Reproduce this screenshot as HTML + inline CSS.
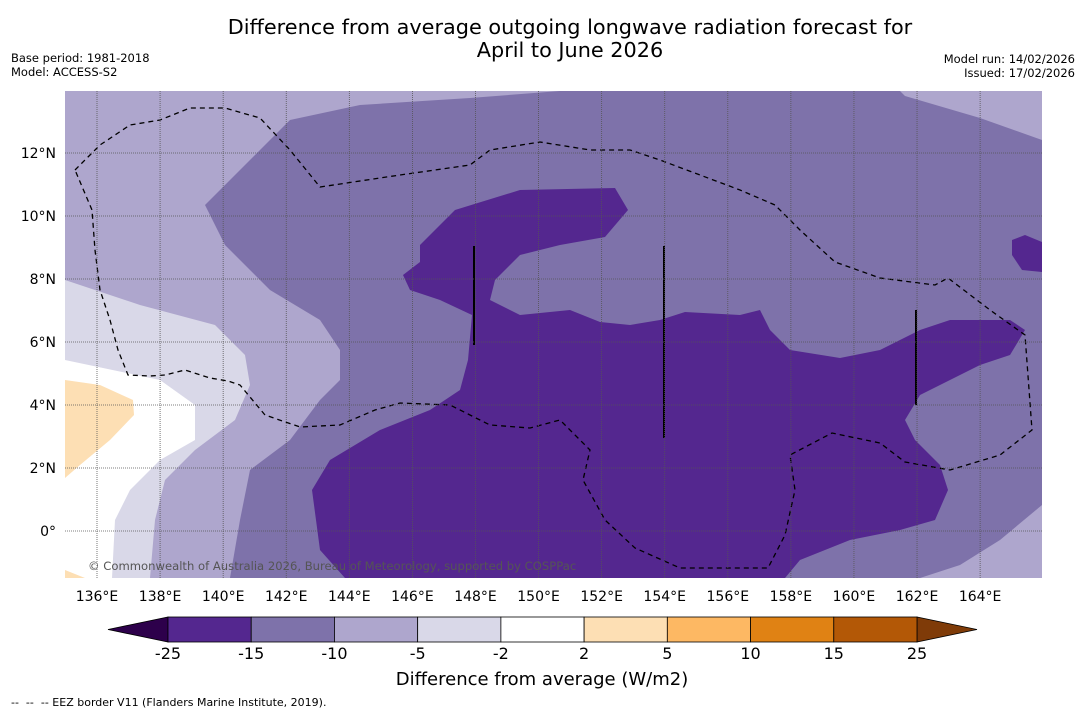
<!DOCTYPE html>
<html><head><meta charset="utf-8"><style>
body{margin:0;background:#fff;font-family:"DejaVu Sans","Liberation Sans",sans-serif;}
svg text{font-family:"DejaVu Sans","Liberation Sans",sans-serif;}
</style></head><body>
<svg id="chart" width="1085" height="713" xmlns="http://www.w3.org/2000/svg">
<text x="570" y="34" font-size="20.8" text-anchor="middle">Difference from average outgoing longwave radiation forecast for</text>
<text x="570" y="57" font-size="20.8" text-anchor="middle">April to June 2026</text>
<text x="11" y="62" font-size="11.5">Base period: 1981-2018</text>
<text x="11" y="76" font-size="11.5">Model: ACCESS-S2</text>
<text x="1075" y="63" font-size="11.5" text-anchor="end">Model run: 14/02/2026</text>
<text x="1075" y="77" font-size="11.5" text-anchor="end">Issued: 17/02/2026</text>
<defs><clipPath id="mapclip"><rect x="65" y="91" width="977" height="487"/></clipPath></defs>
<g id="map" clip-path="url(#mapclip)"></g>
<g id="axes"></g>
<g id="cbar"></g>
<text x="542" y="685" font-size="18" text-anchor="middle">Difference from average (W/m2)</text>
<text x="11" y="706" font-size="11" xml:space="preserve">--  --  -- EEZ border V11 (Flanders Marine Institute, 2019).</text>
</svg>
<script>
const levels=[-25,-15,-10,-5,-2,2,5,10,15,25];
const colors=['#54278f','#7e72aa','#aea6cd','#d9d8e8','#ffffff','#fddfb4','#fdb863','#e08214','#b35806'];
const extendColors=['#2d004b','#7f3b08'];
const lonTicks=[136,138,140,142,144,146,148,150,152,154,156,158,160,162,164];
const latTicks=[0,2,4,6,8,10,12];
const X0=65,X1=1042,Y0=91,Y1=578;
function xLon(l){return 97+(l-136)*31.54;}
function yLat(l){return 531-l*31.5;}
const NS='http://www.w3.org/2000/svg';
function mk(tag,attrs,parent){const e=document.createElementNS(NS,tag);for(const k in attrs)e.setAttribute(k,attrs[k]);parent.appendChild(e);return e;}
const map=document.getElementById('map');
const regions=[
 {c:1,p:[[65,91],[1042,91],[1042,578],[65,578]]},
 {c:2,p:[[65,91],[560,91],[470,98],[360,105],[290,120],[260,150],[205,205],[225,245],[270,290],[320,320],[340,350],[340,380],[320,400],[290,440],[250,470],[240,520],[230,578],[65,578]]},
 {c:2,p:[[900,91],[1042,91],[1042,140],[980,118],[905,96]]},
 {c:2,p:[[1042,505],[1000,540],[960,565],[920,578],[1042,578]]},
 {c:3,p:[[65,280],[140,305],[215,325],[245,355],[250,385],[235,420],[195,450],[165,480],[155,520],[150,578],[65,578]]},
 {c:4,p:[[65,360],[160,380],[195,405],[195,440],[160,460],[130,490],[115,520],[112,578],[65,578]]},
 {c:5,p:[[65,380],[100,385],[133,400],[134,415],[110,440],[80,465],[65,478]]},
 {c:5,p:[[65,570],[85,578],[65,578]]},
 {c:0,p:[[420,245],[455,210],[520,190],[615,188],[628,210],[605,237],[560,245],[520,255],[495,280],[490,300],[520,315],[570,310],[600,322],[630,325],[660,320],[685,312],[740,315],[760,310],[770,330],[790,350],[840,358],[880,350],[920,330],[950,320],[1010,320],[1025,330],[1010,355],[980,365],[950,380],[920,395],[905,420],[915,440],[940,465],[948,490],[935,520],[900,530],[850,540],[800,560],[785,578],[345,578],[320,550],[312,490],[330,460],[380,430],[430,410],[460,390],[468,360],[472,315],[440,300],[410,290],[403,275],[420,262]]},
 {c:0,p:[[1012,240],[1025,235],[1042,242],[1042,272],[1022,270],[1012,255]]}
];
regions.forEach((r,i)=>{
 const e=mk('polygon',{points:r.p.map(q=>q.join(',')).join(' '),fill:colors[r.c]},map);
 
 
});
const eez=[[75,170],[100,145],[130,125],[160,120],[190,108],[225,108],[260,118],[290,150],[320,187],[400,175],[470,165],[490,150],[540,142],[590,150],[630,150],[660,160],[700,175],[740,190],[775,205],[800,230],[835,262],[880,278],[935,285],[948,278],[990,310],[1025,335],[1032,430],[1000,455],[950,470],[905,462],[880,443],[832,433],[790,455],[795,490],[785,535],[768,568],[680,568],[635,548],[605,520],[583,480],[590,450],[560,420],[530,428],[490,425],[450,405],[400,403],[375,410],[340,425],[300,427],[265,415],[240,385],[228,381],[210,378],[185,370],[165,375],[150,376],[128,375],[118,350],[110,320],[100,290],[95,250],[92,210],[75,170]];
const el=mk('polyline',{points:eez.map(q=>q.join(',')).join(' '),fill:'none',stroke:'#000','stroke-width':1.3,'stroke-dasharray':'5,4'},map);


[[474,246,345],[664,246,438],[916,310,405]].forEach((v,i)=>{
 const l=mk('line',{x1:v[0],y1:v[1],x2:v[0],y2:v[2],stroke:'#000','stroke-width':2},map);
 
 
});
const ax=document.getElementById('axes');
lonTicks.forEach(l=>{
 const x=xLon(l);
 const g=mk('line',{x1:x,y1:Y0,x2:x,y2:Y1,stroke:'#555','stroke-width':0.8,'stroke-dasharray':'1,1'},ax);
 
 
 const t=mk('text',{x:x,y:601,'font-size':14,'text-anchor':'middle'},ax);t.textContent=l+'°E';
 
 
});
latTicks.forEach(l=>{
 const y=yLat(l);
 const g=mk('line',{x1:X0,y1:y,x2:X1,y2:y,stroke:'#555','stroke-width':0.8,'stroke-dasharray':'1,1'},ax);
 
 
 const t=mk('text',{x:56,y:y+5,'font-size':14,'text-anchor':'end'},ax);t.textContent=l===0?'0°':l+'°N';
 
 
});
const cr=mk('text',{x:88,y:570,'font-size':11.6,fill:'#555'},ax);
cr.textContent='© Commonwealth of Australia 2026, Bureau of Meteorology, supported by COSPPac';


const cb=document.getElementById('cbar');
const cx0=168,cx1=917,cy=617,ch=25,w=(cx1-cx0)/colors.length;
const tl=mk('polygon',{points:`108,${cy+ch/2} ${cx0},${cy} ${cx0},${cy+ch}`,fill:extendColors[0],stroke:'#000','stroke-width':0.8},cb);


const tr=mk('polygon',{points:`977,${cy+ch/2} ${cx1},${cy} ${cx1},${cy+ch}`,fill:extendColors[1],stroke:'#000','stroke-width':0.8},cb);


colors.forEach((c,i)=>{
 const r=mk('rect',{x:cx0+i*w,y:cy,width:w,height:ch,fill:c,stroke:'#000','stroke-width':0.8},cb);
 
 
});
levels.forEach((v,i)=>{
 const t=mk('text',{x:cx0+i*w,y:659,'font-size':16,'text-anchor':'middle'},cb);t.textContent=v;
 
 
});
</script>
</body></html>
